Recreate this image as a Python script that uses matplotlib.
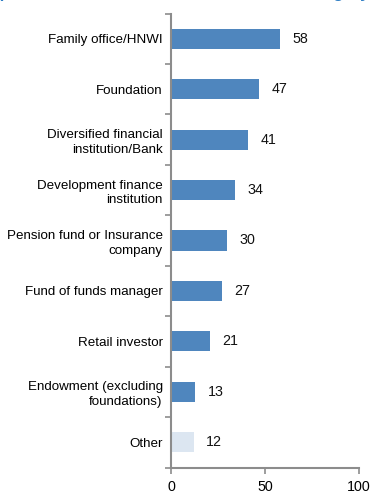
import matplotlib.pyplot as plt

plt.rcParams['font.family'] = ['Liberation Sans', 'DejaVu Sans']

categories = [
    'Family office/HNWI',
    'Foundation',
    'Diversified financial\ninstitution/Bank',
    'Development finance\ninstitution',
    'Pension fund or Insurance\ncompany',
    'Fund of funds manager',
    'Retail investor',
    'Endowment (excluding\nfoundations)',
    'Other',
]
values = [58, 47, 41, 34, 30, 27, 21, 13, 12]
bar_colors = ['#4f86be'] * 8 + ['#dce6f1']
xticks = [0, 50, 100]

fig = plt.figure(figsize=(3.73, 4.93), dpi=100)
ax = fig.add_axes([171 / 373, 25.5 / 493, 188 / 373, 454 / 493])

ypos = list(range(len(categories)))
ax.barh(ypos, values, height=0.4, color=bar_colors)
for y, v in zip(ypos, values):
    ax.text(v + 6.5, y, str(v), va='center', ha='left', fontsize=10.3, color='#111111')

ax.set_ylim(len(categories) - 0.5, -0.5)
ax.set_xlim(0, 100)

# category labels sit between the boundary ticks
ax.set_yticks(ypos)
ax.set_yticklabels(categories, fontsize=9.6, linespacing=1.3)
ax.tick_params(axis='y', length=0, pad=6)
ax.set_yticks([i - 0.5 for i in range(len(categories) + 1)], minor=True)
ax.tick_params(axis='y', which='minor', length=4, width=1.2, color='#8c8c8c', direction='out')

ax.set_xticks(xticks)
ax.set_xticklabels([str(t) for t in xticks], fontsize=10.3)
ax.tick_params(axis='x', length=4, width=1.2, color='#8c8c8c', pad=5)

for side in ['top', 'right']:
    ax.spines[side].set_visible(False)
for side in ['left', 'bottom']:
    ax.spines[side].set_color('#8c8c8c')
    ax.spines[side].set_linewidth(1.5)

fig.text(369 / 373, 1 + 1.5 / 493, 'Composition: number of investors in each category',
         ha='right', va='baseline', fontsize=12, fontweight='bold', color='#2e7dc4')

fig.savefig('out.png', dpi=100)
